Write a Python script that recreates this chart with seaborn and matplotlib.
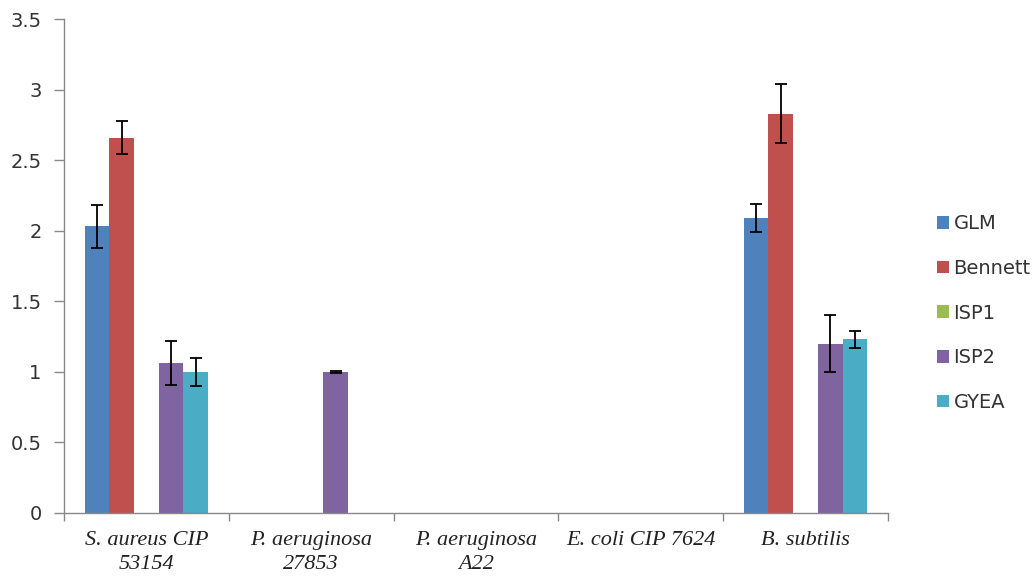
import numpy as np
import pandas as pd
import matplotlib
matplotlib.use("Agg")
import matplotlib.pyplot as plt
import seaborn as sns

# Strains tested and culture media
strains = ["S. aureus CIP\n53154", "P. aeruginosa\n27853", "P. aeruginosa\nA22",
           "E. coli CIP 7624", "B. subtilis"]
media = ["GLM", "Bennett", "ISP1", "ISP2", "GYEA"]

# Mean activity per medium (one value per strain) and its error
glm = [2.03, 0.0, 0.0, 0.0, 2.09]
glm_err = [0.155, 0.0, 0.0, 0.0, 0.10]
bennett = [2.66, 0.0, 0.0, 0.0, 2.83]
bennett_err = [0.115, 0.0, 0.0, 0.0, 0.21]
isp1 = [0.0, 0.0, 0.0, 0.0, 0.0]
isp1_err = [0.0, 0.0, 0.0, 0.0, 0.0]
isp2 = [1.06, 1.0, 0.0, 0.0, 1.20]
isp2_err = [0.155, 0.005, 0.0, 0.0, 0.20]
gyea = [1.00, 0.0, 0.0, 0.0, 1.23]
gyea_err = [0.10, 0.0, 0.0, 0.0, 0.06]

colors = ["#4F81BD", "#C0504D", "#9BBB59", "#8064A2", "#4BACC6"]

values = [glm, bennett, isp1, isp2, gyea]
errors = [glm_err, bennett_err, isp1_err, isp2_err, gyea_err]

rows = []
for m, vals, errs in zip(media, values, errors):
    for s, v, e in zip(strains, vals, errs):
        rows.append({"strain": s, "medium": m, "value": v, "err": e})
df = pd.DataFrame(rows)

sns.set_theme(style="white")
plt.rcParams["font.family"] = ["DejaVu Sans"]

fig = plt.figure(figsize=(10.35, 5.77), dpi=100)
ax = fig.add_axes([0.0618, 0.111, 0.796, 0.856])

sns.barplot(data=df, x="strain", y="value", hue="medium", order=strains,
            hue_order=media, palette=colors, width=0.75, errorbar=None,
            saturation=1, linewidth=0, ax=ax)

# Error bars placed at the centre and top of each drawn bar
for container, m in zip(ax.containers, media):
    sub = df[df["medium"] == m].set_index("strain").loc[strains]
    for bar, (v, e) in zip(container, zip(sub["value"], sub["err"])):
        if v <= 0:
            continue
        xc = bar.get_x() + bar.get_width() / 2
        ax.errorbar(xc, bar.get_height(), yerr=e, fmt="none", ecolor="black",
                    elinewidth=1.3, capsize=4.5, capthick=1.3)

ax.set_xlim(-0.5, len(strains) - 0.5)
ax.set_ylim(0, 3.5)
ax.set_yticks(np.arange(0, 3.51, 0.5))
ax.set_yticklabels(["0", "0.5", "1", "1.5", "2", "2.5", "3", "3.5"],
                   fontsize=14, color="#333333")
ax.set_xlabel("")
ax.set_ylabel("")

ax.set_xticks(range(len(strains)))
ax.set_xticklabels(strains, fontsize=16, fontstyle="italic",
                   family="Liberation Serif", color="#222222", linespacing=1.35)
ax.set_xticks(np.arange(-0.5, len(strains), 1.0), minor=True)
ax.tick_params(axis="x", which="major", length=0, pad=13)
ax.tick_params(axis="x", which="minor", length=6, width=1, color="#888888",
               direction="out", bottom=True)
ax.tick_params(axis="y", which="major", length=7, width=1, color="#888888",
               direction="out", left=True, pad=9)

for side in ["top", "right"]:
    ax.spines[side].set_visible(False)
for side in ["left", "bottom"]:
    ax.spines[side].set_color("#888888")
    ax.spines[side].set_linewidth(1.0)

handles, labels = ax.get_legend_handles_labels()
ax.legend(handles, labels, loc="center left", bbox_to_anchor=(0.888, 0.4575),
          bbox_transform=fig.transFigure, frameon=False, fontsize=14,
          handlelength=0.62, handleheight=0.62, handletextpad=0.25,
          labelspacing=1.32, labelcolor="#333333")

fig.savefig("out.png", dpi=100)
